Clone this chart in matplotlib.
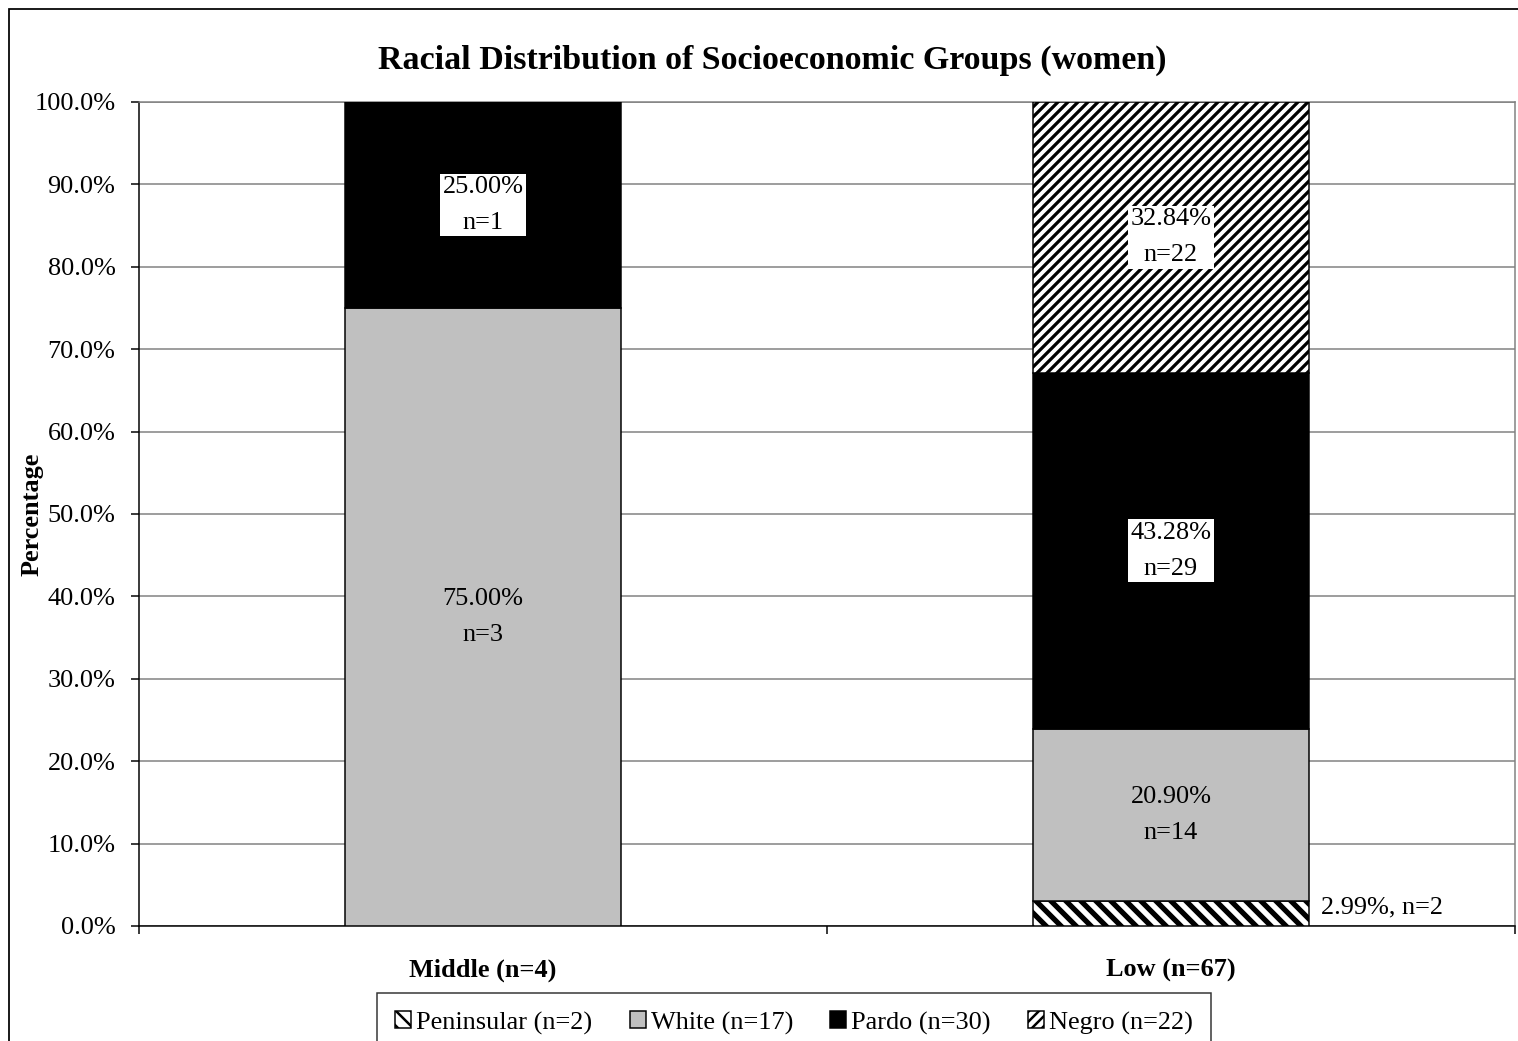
import matplotlib
matplotlib.use("Agg")
import matplotlib.pyplot as plt
from matplotlib.patches import Rectangle
from matplotlib.ticker import FixedLocator, FuncFormatter
import numpy as np

# --- data -------------------------------------------------------------
groups = ["Middle (n=4)", "Low (n=67)"]
races = ["Peninsular (n=2)", "White (n=17)", "Pardo (n=30)", "Negro (n=22)"]
pct_peninsular = [0.0, 2.99]
pct_white = [75.00, 20.90]
pct_pardo = [25.00, 43.28]
pct_negro = [0.0, 32.84]
n_peninsular = [0, 2]
n_white = [3, 14]
n_pardo = [1, 29]
n_negro = [0, 22]
yticks = [0, 10, 20, 30, 40, 50, 60, 70, 80, 90, 100]

# --- styling ----------------------------------------------------------
DPI = 180
W, H = 1518, 1041
plt.rcParams["font.family"] = ["Liberation Serif", "DejaVu Serif"]
FS = 10.5

fig = plt.figure(figsize=(W / DPI, H / DPI), dpi=DPI)
fig.patch.set_facecolor("white")

# outer chart frame
fig.patches.append(Rectangle((9 / W, -0.05), 1.2, 1 - 9 / H + 0.05,
                             transform=fig.transFigure, fill=False,
                             edgecolor="black", linewidth=0.7, zorder=0))

ax = fig.add_axes([139 / W, 1 - 926 / H, (1515 - 139) / W, (926 - 102) / H])

series = [
    (pct_peninsular, n_peninsular, "white", "\\" * 4, 2.1),
    (pct_white, n_white, "#C0C0C0", None, 0),
    (pct_pardo, n_pardo, "black", None, 0),
    (pct_negro, n_negro, "white", "/" * 6, 1.3),
]

x = np.arange(len(groups))
bottom = np.zeros(len(groups))
handles = []
for (vals, counts, color, hatch, hlw), label in zip(series, races):
    vals = np.array(vals)
    with plt.rc_context({"hatch.linewidth": hlw if hatch else 1.0,
                         "hatch.color": "black"}):
        bars = ax.bar(x, vals, width=0.4, bottom=bottom, color=color,
                      edgecolor="black", linewidth=0.6, hatch=hatch,
                      label=label, zorder=3)
        for b in bars:
            if hatch and hasattr(b, "set_hatch_linewidth"):
                b.set_hatch_linewidth(hlw)
    handles.append(bars[0])
    for i, (v, c) in enumerate(zip(vals, counts)):
        if v <= 0:
            continue
        yc = bottom[i] + v / 2
        if v < 5:
            ax.text(x[i] + 0.2 + 0.018, yc + 0.8, f"{v:.2f}%, n={c}",
                    ha="left", va="center", fontsize=FS, zorder=5)
        else:
            box = None
            if color == "black" or hatch:
                box = dict(boxstyle="square,pad=0.1", facecolor="white",
                           edgecolor="none")
            ax.text(x[i], yc, f"{v:.2f}%\nn={c}", ha="center", va="center",
                    fontsize=FS, linespacing=1.8, bbox=box, zorder=5)
    bottom += vals

# axes styling
ax.set_xlim(-0.5, len(groups) - 0.5)
ax.set_ylim(0, 100)
ax.yaxis.set_major_locator(FixedLocator(yticks))
ax.yaxis.set_major_formatter(FuncFormatter(lambda v, p: f"{v:.1f}%"))
ax.tick_params(axis="y", direction="out", length=3.2, width=0.6,
               pad=6.2, labelsize=FS, colors="black")
ax.yaxis.grid(True, color="#808080", linewidth=0.6, zorder=0)
ax.set_axisbelow(True)

ax.xaxis.set_major_locator(FixedLocator(np.arange(len(groups) + 1) - 0.5))
ax.xaxis.set_major_formatter(FuncFormatter(lambda v, p: ""))
ax.xaxis.set_minor_locator(FixedLocator(x))
ax.set_xticklabels(groups, minor=True, fontweight="bold", fontsize=FS)
ax.tick_params(axis="x", which="major", direction="out", length=3.2, width=0.6)
ax.tick_params(axis="x", which="minor", length=0, pad=13.2)

for side in ("left", "bottom"):
    ax.spines[side].set_color("black")
    ax.spines[side].set_linewidth(0.6)
for side in ("top", "right"):
    ax.spines[side].set_color("#808080")
    ax.spines[side].set_linewidth(0.6)

ax.set_ylabel("Percentage", fontweight="bold", fontsize=FS)
ax.yaxis.set_label_coords(-(139 - 44) / (1515 - 139), 0.5)

fig.text(772 / W, 1 - 60 / H, "Racial Distribution of Socioeconomic Groups (women)",
         ha="center", va="center", fontweight="bold", fontsize=13.6)

leg = fig.legend(handles, races, loc="upper center",
                 bbox_to_anchor=(794 / W, 1 - 993 / H), ncol=4,
                 fontsize=FS, frameon=True, fancybox=False,
                 handlelength=0.62, handleheight=0.62, handletextpad=0.18,
                 columnspacing=1.42, borderpad=0.7, borderaxespad=0)
leg.get_frame().set_edgecolor("black")
leg.get_frame().set_linewidth(0.6)

fig.savefig("out.png", dpi=DPI, facecolor="white")
